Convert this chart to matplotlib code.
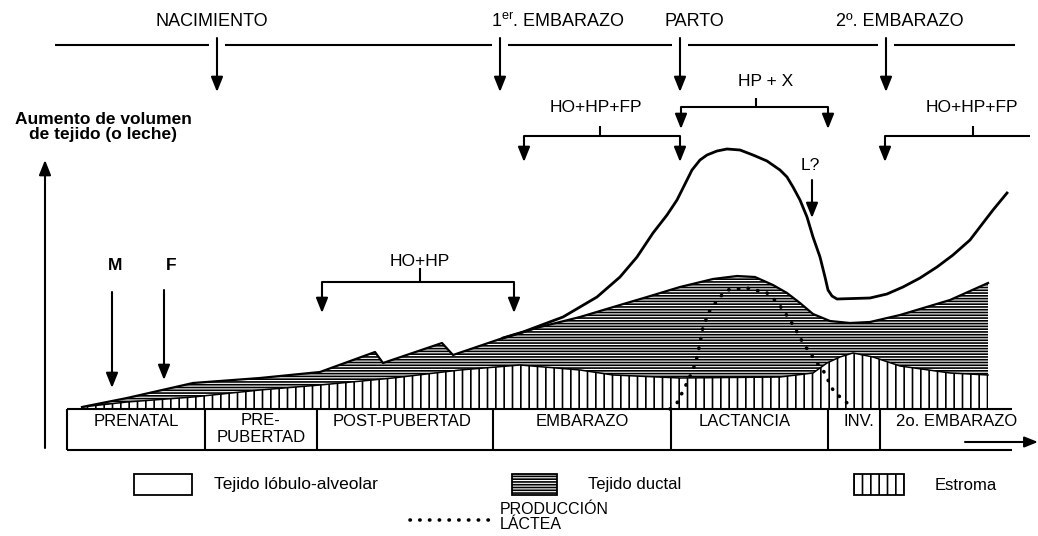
import matplotlib
matplotlib.use('Agg')
import matplotlib.pyplot as plt
from matplotlib.patches import Rectangle

plt.rcParams['font.family'] = ['Liberation Sans', 'DejaVu Sans']
plt.rcParams['mathtext.fontset'] = 'custom'
plt.rcParams['mathtext.rm'] = 'Liberation Sans'
plt.rcParams['hatch.linewidth'] = 1.2
plt.rcParams['hatch.color'] = 'black'

# ---------------- data (time axis x, volume above baseline) ----------------
stroma_x = [82, 127, 193, 260, 320, 393, 460, 520, 580, 613, 680, 780, 813, 827, 840, 853, 873, 900, 950, 988]
stroma_v = [2, 7, 12, 19, 24, 31, 39, 44, 39, 34, 31, 32, 36, 46, 52, 56, 52, 43, 36, 34]

ductal_x = [82, 127, 193, 260, 320, 375, 383, 442, 453, 503, 540, 580, 620, 647, 680, 713, 737, 755,
            773, 787, 800, 813, 830, 850, 870, 900, 950, 988]
ductal_v = [2, 11, 26, 31, 37, 57, 46, 66, 54, 71, 82, 92, 104, 112, 122, 130, 133, 132,
            124, 116, 106, 95, 88, 86, 87, 94, 109, 126]

lobulo_x = [503, 523, 563, 597, 620, 637, 653, 667, 677, 687, 692, 700, 707, 717, 727, 740, 753,
            767, 780, 787, 793, 800, 807, 813, 820, 825, 828, 832, 837, 870, 887, 903, 920, 937,
            953, 970, 983, 993, 1007]
lobulo_v = [71, 77, 92, 112, 132, 152, 176, 194, 209, 229, 239, 249, 254, 258, 260, 259, 254,
            248, 239, 232, 222, 209, 192, 172, 152, 132, 119, 113, 110, 111, 115, 122, 131, 142,
            154, 169, 186, 199, 216]

leche_x = [670, 677, 685, 693, 697, 700, 703, 710, 720, 727, 747, 767, 777, 783, 790, 797, 803,
           810, 817, 823, 828, 833, 843, 850]
leche_v = [0, 6, 22, 39, 52, 66, 82, 99, 112, 119, 121, 116, 107, 99, 89, 77, 66,
           56, 46, 39, 29, 19, 9, 4]

event_labels = ['NACIMIENTO', r'1$^{\mathrm{er}}$. EMBARAZO', 'PARTO', '2º. EMBARAZO']
event_x = [217, 500, 680, 886]
event_label_x = [212, 558, 694, 900]

stage_labels = ['PRENATAL', 'PRE-\nPUBERTAD', 'POST-PUBERTAD', 'EMBARAZO', 'LACTANCIA', 'INV.', '2o. EMBARAZO']
stage_edges = [67, 205, 317, 493, 671, 828, 880, 1012]
stage_label_x = [136, 261, 402, 582, 745, 859, 957]

legend_labels = ['Tejido lóbulo-alveolar', 'Tejido ductal', 'Estroma', 'PRODUCCIÓN\nLÁCTEA']

# ---------------- figure ----------------
BASE = 409  # pixel row of the baseline


def Y(py):
    return BASE - py


fig = plt.figure(figsize=(10.38, 5.36), dpi=100)
ax = fig.add_axes([0, 0, 1, 1])
ax.set_xlim(0, 1038)
ax.set_ylim(BASE - 536, BASE)
ax.axis('off')

LW = 1.5
AST = '-|>,head_length=0.5,head_width=0.2'
DOTS = dict(color='black', lw=2.6, linestyle=(0, (0.1, 2.6)), dash_capstyle='round')


def arrow(x0, py0, x1, py1, ms=18):
    ax.annotate('', xy=(x1, Y(py1)), xytext=(x0, Y(py0)),
                arrowprops=dict(arrowstyle=AST, mutation_scale=ms, lw=LW, color='black',
                                shrinkA=0, shrinkB=0))


def hline(x0, x1, py, lw=LW):
    ax.plot([x0, x1], [Y(py), Y(py)], color='black', lw=lw, solid_capstyle='butt')


def vline(x, py0, py1, lw=LW):
    ax.plot([x, x], [Y(py0), Y(py1)], color='black', lw=lw, solid_capstyle='butt')


# tissue areas
ax.fill_between(ductal_x, 0, ductal_v, facecolor='white', edgecolor='black', hatch='------',
                linewidth=0, zorder=1)
ax.fill_between(stroma_x, 0, stroma_v, facecolor='white', edgecolor='black', hatch='||',
                linewidth=0, zorder=2)
ax.plot(ductal_x, ductal_v, color='black', lw=1.6, zorder=3)
ax.plot(stroma_x, stroma_v, color='black', lw=1.1, zorder=3)
ax.plot(lobulo_x, lobulo_v, color='black', lw=2.0, zorder=3)
ax.plot(leche_x, leche_v, zorder=4, **DOTS)

# top time line with events
seg_start = 55
for ex in event_x:
    hline(seg_start, ex - 8, 45)
    seg_start = ex + 8
hline(seg_start, 1015, 45)
for ex, lab, lx in zip(event_x, event_labels, event_label_x):
    arrow(ex, 38, ex, 92)
    ax.text(lx, Y(22), lab, ha='center', va='center', fontsize=13)


# hormone brackets
def bracket(xl, xr, xt, py_line, py_tick, py_bot, label, lx, lpy, arrows=(True, True)):
    hline(xl, xr, py_line)
    vline(xt, py_tick, py_line)
    if arrows[0]:
        arrow(xl, py_line, xl, py_bot)
    if arrows[1]:
        arrow(xr, py_line, xr, py_bot)
    ax.text(lx, Y(lpy), label, ha='center', va='center', fontsize=12.5)


bracket(524, 680, 600, 136, 126, 162, 'HO+HP+FP', 596, 108)
bracket(681, 828, 756, 107, 98, 129, 'HP + X', 766, 82)
bracket(885, 1030, 973, 136, 126, 162, 'HO+HP+FP', 972, 108, arrows=(True, False))
bracket(322, 514, 420, 282, 268, 313, 'HO+HP', 420, 262)

# L?
ax.text(810, Y(165), 'L?', ha='center', va='center', fontsize=12.5)
arrow(812, 180, 812, 218)

# M / F
ax.text(115, Y(265), 'M', ha='center', va='center', fontsize=12.5, fontweight='bold')
ax.text(171, Y(265), 'F', ha='center', va='center', fontsize=12.5, fontweight='bold')
arrow(112, 292, 112, 388)
arrow(164, 290, 164, 380)

# vertical axis
arrow(45, 448, 45, 160)
ax.text(103, Y(127), 'Aumento de volumen\nde tejido (o leche)', ha='center', va='center',
        fontsize=12.5, fontweight='bold', linespacing=1.0)

# stage boxes
hline(stage_edges[0], stage_edges[-1], 409)
hline(stage_edges[0], stage_edges[-1], 450)
for e in stage_edges[:-1]:
    vline(e, 409, 450)
for lab, lx in zip(stage_labels, stage_label_x):
    if '\n' in lab:
        ax.text(lx, Y(429), lab, ha='center', va='center', fontsize=12, linespacing=1.1)
    else:
        ax.text(lx, Y(421), lab, ha='center', va='center', fontsize=12)
arrow(965, 442, 1038, 442, ms=16)

# legend
ax.add_patch(Rectangle((134, Y(495)), 58, 21, facecolor='white', edgecolor='black', lw=1.3))
ax.text(214, Y(485), legend_labels[0], ha='left', va='center', fontsize=12.5)
ax.add_patch(Rectangle((512, Y(495)), 45, 21, facecolor='white', edgecolor='black', lw=1.3,
                       hatch='------'))
ax.text(588, Y(485), legend_labels[1], ha='left', va='center', fontsize=12)
ax.add_patch(Rectangle((854, Y(495)), 50, 21, facecolor='white', edgecolor='black', lw=1.3,
                       hatch='||'))
ax.text(935, Y(485), legend_labels[2], ha='left', va='center', fontsize=12)
ax.plot([410, 490], [Y(520), Y(520)], **DOTS)
ax.text(500, Y(517), legend_labels[3], ha='left', va='center', fontsize=11.5, linespacing=0.95)

fig.savefig('out.png', dpi=100)
